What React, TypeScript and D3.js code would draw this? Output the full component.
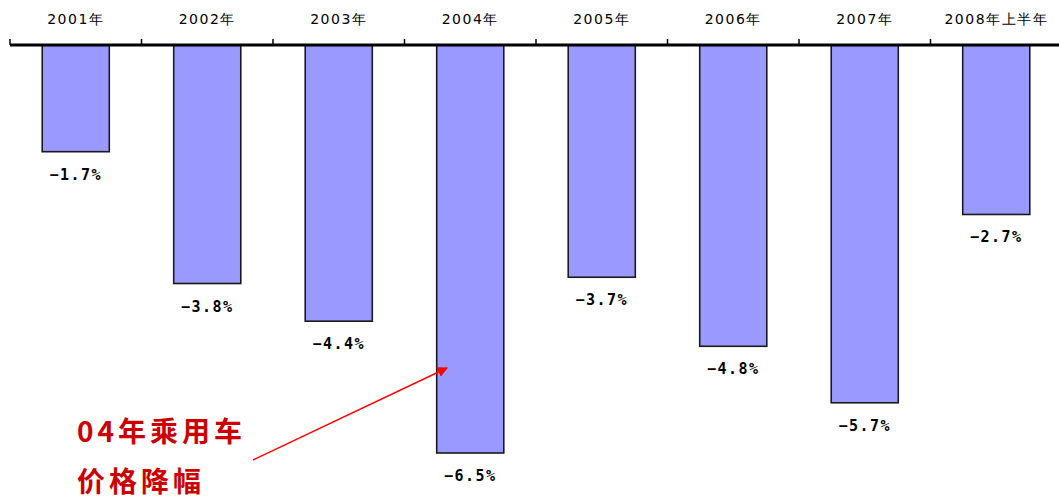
import React from "react";
import * as d3 from "d3";

const categories = ["2001年", "2002年", "2003年", "2004年", "2005年", "2006年", "2007年", "2008年上半年"];
const values = [-1.7, -3.8, -4.4, -6.5, -3.7, -4.8, -5.7, -2.7];
const annotationLines = ["04年乘用车", "价格降幅"];

export default function App() {
  const W = 1059, H = 501;
  const x = d3.scaleBand<string>().domain(categories).range([10, 1062]).paddingInner(0.49).paddingOuter(0.245);
  const xb = d3.scaleBand<string>().domain(categories).range([10, 1062]);
  const y = d3.scaleLinear().domain([0, -6.5]).range([45, 453]);
  return (
    <svg width={W} height={H} style={{ position: "absolute", left: 0, top: 0 }}>
      <defs>
        <marker id="ah" viewBox="0 0 10 10" refX="9" refY="5" markerWidth="7" markerHeight="7" orient="auto">
          <path d="M0,0 L10,5 L0,10 z" fill="#ff0000" />
        </marker>
      </defs>
      <rect width={W} height={H} fill="#fff" />
      {categories.map((c, i) => (
        <rect key={c} x={x(c)} y={y(0)} width={x.bandwidth()} height={y(values[i]) - y(0)}
          fill="#9999ff" stroke="#1a1a1a" strokeWidth={1.6} />
      ))}
      <line x1={10} x2={1059} y1={y(0)} y2={y(0)} stroke="#000" strokeWidth={3} />
      {categories.map((c) => (
        <line key={"t" + c} x1={xb(c)} x2={xb(c)} y1={y(0) - 6} y2={y(0)} stroke="#000" strokeWidth={1.5} />
      ))}
      {categories.map((c) => (
        <text key={"l" + c} x={(xb(c) as number) + xb.bandwidth() / 2} y={24} textAnchor="middle"
          fontFamily="'DejaVu Sans', sans-serif" fontSize={14} letterSpacing={1.5} fill="#000">{c}</text>
      ))}
      {categories.map((c, i) => (
        <text key={"v" + c} x={(x(c) as number) + x.bandwidth() / 2} y={y(values[i]) + 28} textAnchor="middle"
          fontFamily="'DejaVu Sans Mono', monospace" fontSize={15} fontWeight="bold" letterSpacing={1.5} fill="#000">
          {"−" + Math.abs(values[i]).toFixed(1) + "%"}
        </text>
      ))}
      <line x1={253} y1={460} x2={447} y2={368} stroke="#ff0000" strokeWidth={1.5} markerEnd="url(#ah)" />
      {annotationLines.map((t, i) => (
        <text key={t} x={77} y={442 + i * 50} fontFamily="'Noto Sans CJK SC', sans-serif" fontSize={28}
          letterSpacing={4} fontWeight="bold" fill="#cc0000">{t}</text>
      ))}
    </svg>
  );
}
